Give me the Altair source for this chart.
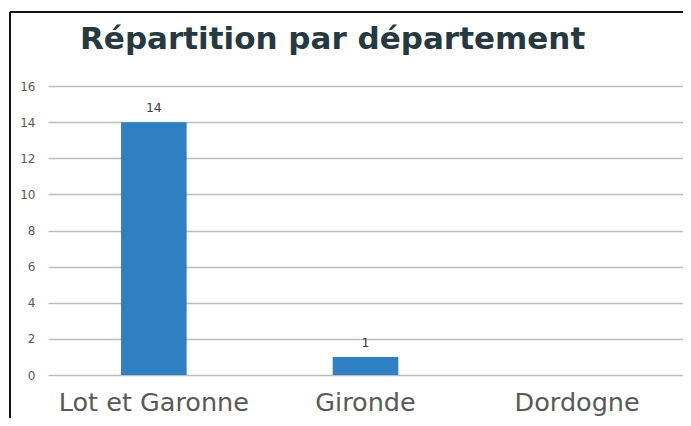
import altair as alt
import pandas as pd

categories = ["Lot et Garonne", "Gironde", "Dordogne"]
values = [14, 1, 0]

df = pd.DataFrame({"dep": categories, "n": values})
df["label"] = [str(v) if v > 0 else "" for v in values]

W, H = 635, 289

x = alt.X("dep:N", sort=categories, title=None,
          scale=alt.Scale(paddingInner=0.69, paddingOuter=0.345),
          axis=alt.Axis(labelAngle=0, labelFontSize=25.5, labelColor="#595959",
                        labelFont="DejaVu Sans", domain=False, ticks=False,
                        labelPadding=15, labelLimit=0))
y = alt.Y("n:Q", title=None,
          scale=alt.Scale(domain=[0, 16], nice=False),
          axis=alt.Axis(values=[0, 2, 4, 6, 8, 10, 12, 14, 16], labelFontSize=12,
                        labelColor="#595959", labelFont="DejaVu Sans",
                        labelOverlap=False, tickCount=20,
                        domain=False, ticks=False, labelPadding=13,
                        gridColor="#BDBDBD", gridWidth=1.5))

bars = alt.Chart(df).mark_bar(color="#2E80C3").encode(x=x, y=y)
labels = alt.Chart(df).mark_text(baseline="alphabetic", dy=-10, fontSize=12.5,
                                 color="#404040", font="DejaVu Sans").encode(
    x=x, y=y, text="label:N")

frame_top = alt.Chart(df).mark_rule(color="#111111", strokeWidth=1.5).encode(
    x=alt.value(-38), x2=alt.value(700), y=alt.value(-74))
frame_left = alt.Chart(df).mark_rule(color="#111111", strokeWidth=1.5).encode(
    x=alt.value(-38), y=alt.value(-74), y2=alt.value(400))

chart = alt.layer(bars, labels, frame_top, frame_left).properties(
    width=W, height=H,
    autosize=alt.AutoSizeParams(type="none"),
    padding={"left": 40, "top": 78, "right": 0, "bottom": 43},
    title=alt.TitleParams("Répartition par département", anchor="start",
                          frame="group", dx=32, fontSize=31, font="DejaVu Sans",
                          fontWeight="bold", color="#263840", offset=-45),
).configure_view(stroke=None)

chart.save("out.html", embed_options={"renderer": "svg", "actions": False})
